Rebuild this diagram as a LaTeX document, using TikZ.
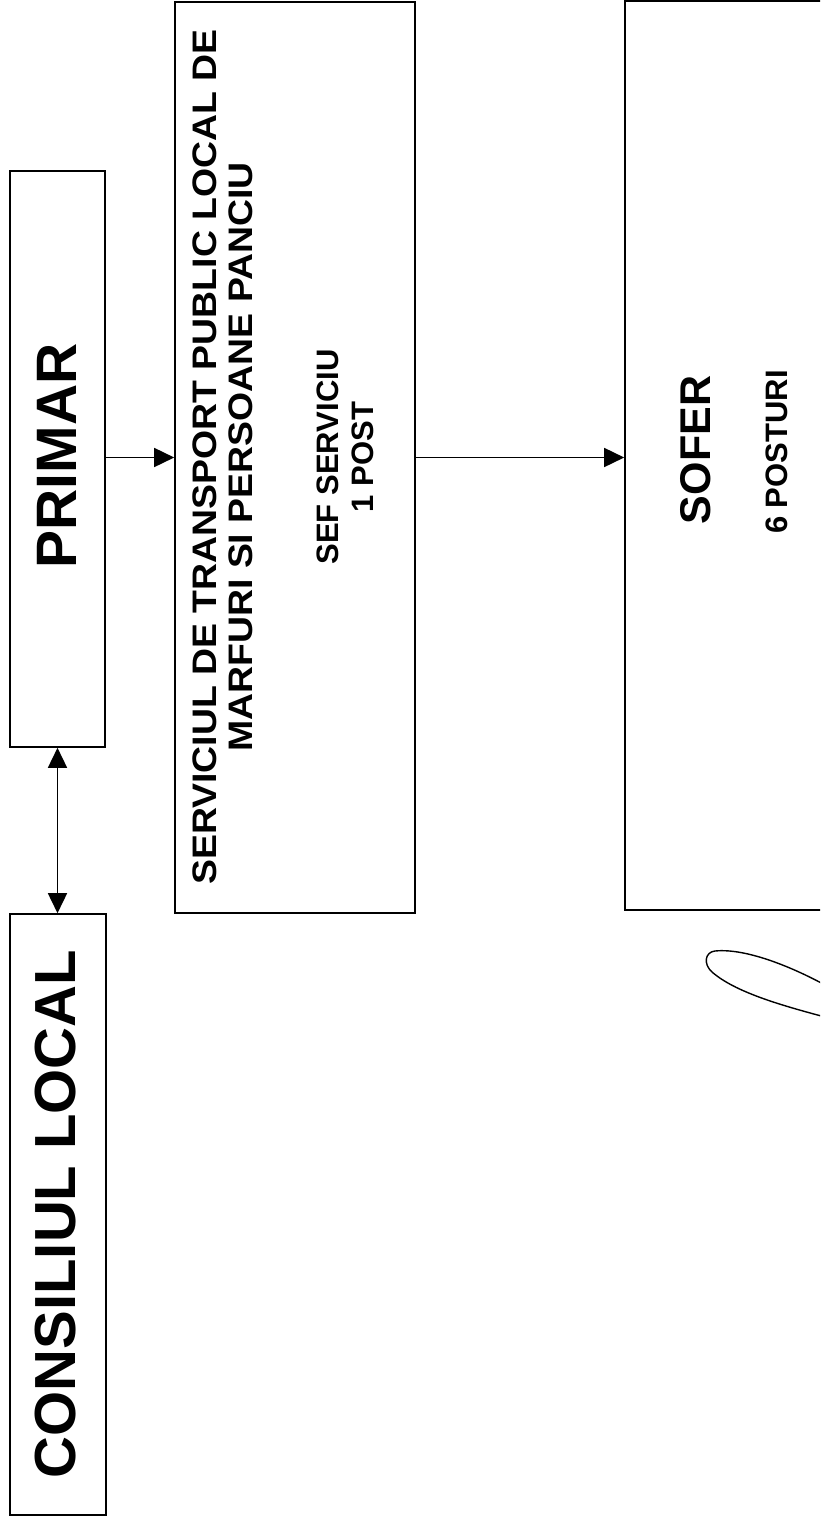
\documentclass[tikz,border=0pt]{standalone}
\usepackage{fontspec}
\setmainfont{Liberation Sans}
\usepackage{graphicx}
\usetikzlibrary{arrows.meta}
\begin{document}
\begin{tikzpicture}[x=1pt,y=-1pt,
  box/.style={draw, line width=1.6pt, rectangle, inner sep=0pt},
  lbl/.style={rotate=90, inner sep=0pt, align=center},
  conn/.style={line width=1.6pt, -{Triangle[length=20pt,width=19pt]}},
  biconn/.style={line width=1.6pt, {Triangle[length=20pt,width=19pt]}-{Triangle[length=20pt,width=19pt]}}
]
\useasboundingbox (0,0) rectangle (820,1517);
\clip (0,0) rectangle (820,1517);
% boxes
\node[box, minimum width=95pt, minimum height=576pt] (primar) at (57.5,459) {};
\node[box, minimum width=96pt, minimum height=601pt] (consiliu) at (58,1214.5) {};
\node[box, minimum width=240pt, minimum height=911pt] (service) at (295,457.5) {};
\node[box, minimum width=240pt, minimum height=909pt] (sofer) at (745,455.5) {};
% labels
\node[lbl, font=\bfseries\fontsize{58pt}{60pt}\selectfont] (tconsiliu) at (56,1214) {CONSILIUL LOCAL};
\node[lbl, font=\bfseries\fontsize{57pt}{59pt}\selectfont] (tprimar) at (57,456) {PRIMAR};
\node[lbl, font=\bfseries\fontsize{34pt}{36pt}\selectfont] (tservice) at (223,457) {\scalebox{1.1}[1]{SERVICIUL DE TRANSPORT PUBLIC LOCAL DE}\\\scalebox{1.1}[1]{MARFURI SI PERSOANE PANCIU}};
\node[lbl, font=\bfseries\fontsize{31pt}{35pt}\selectfont] (tsef) at (345,457) {SEF SERVICIU\\1 POST};
\node[lbl, font=\bfseries\fontsize{43pt}{45pt}\selectfont] (tsofer) at (696,450) {SOFER};
\node[lbl, font=\bfseries\fontsize{31pt}{33pt}\selectfont] (tposturi) at (777,452) {6 POSTURI};
% connectors
\draw[biconn] (primar.south) -- (primar.south |- consiliu.north);
\draw[conn] (primar.east |- service.west) -- (service.west);
\draw[conn] (service.east) -- (service.east -| sofer.west);
% signature scribble
\draw[line width=1.4pt] (825,985) .. controls (790,966) and (745,948) .. (715,951)
  .. controls (705,952) and (703,964) .. (712,972)
  .. controls (735,992) and (780,1005) .. (825,1017);
\end{tikzpicture}
\end{document}
